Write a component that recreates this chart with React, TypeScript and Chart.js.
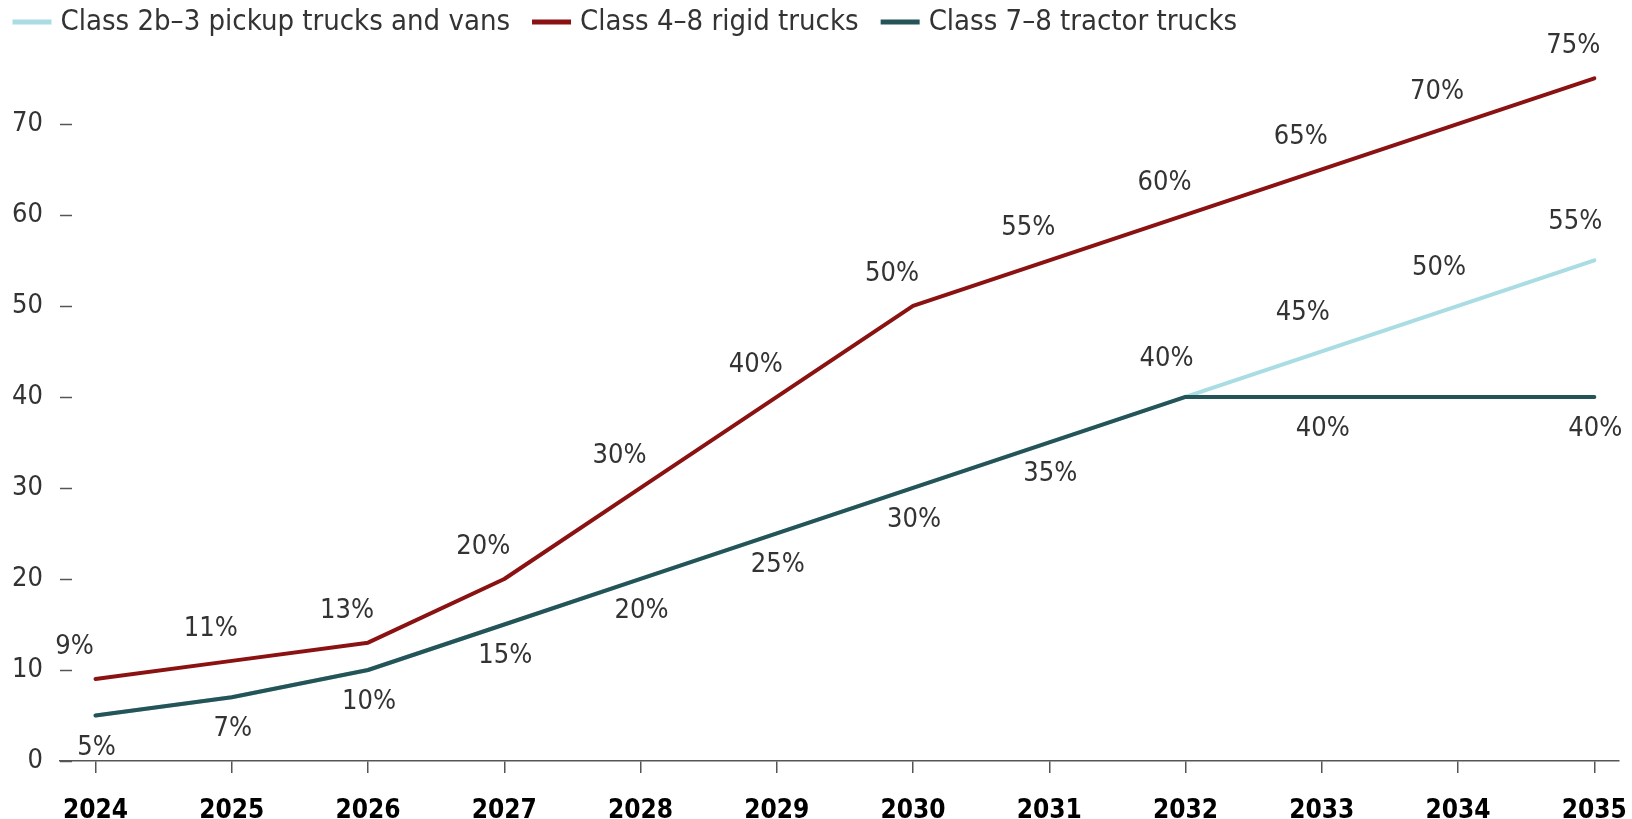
import React, { useEffect, useRef } from "react";
import { Chart, registerables } from "chart.js";

Chart.register(...registerables);

const years = [2024, 2025, 2026, 2027, 2028, 2029, 2030, 2031, 2032, 2033, 2034, 2035];
const pickupVans = [5, 7, 10, 15, 20, 25, 30, 35, 40, 45, 50, 55];
const rigidTrucks = [9, 11, 13, 20, 30, 40, 50, 55, 60, 65, 70, 75];
const tractorTrucks = [5, 7, 10, 15, 20, 25, 30, 35, 40, 40, 40, 40];
const yTickValues = [0, 10, 20, 30, 40, 50, 60, 70];
const seriesNames = [
  "Class 2b\u20133 pickup trucks and vans",
  "Class 4\u20138 rigid trucks",
  "Class 7\u20138 tractor trucks",
];

const FONT_COND = "'DejaVu Sans Condensed', 'Liberation Sans Narrow', 'DejaVu Sans', sans-serif";

const COLORS = ["#a9dce3", "#8b1212", "#245457"];

// label placement per dataset: offset and which indices to show
const labelCfg = [
  { dx: -19, dy: -38, show: (i: number) => i >= 8 },
  { dx: -21, dy: -32, show: (_i: number) => true },
  { dx: 1, dy: 32, show: (i: number) => i !== 8 && i !== 10 },
];

const dataLabelPlugin = {
  id: "dataLabelPlugin",
  afterDatasetsDraw(chart: any) {
    const ctx = chart.ctx;
    ctx.save();
    ctx.font = `27px ${FONT_COND}`;
    ctx.fillStyle = "#333333";
    ctx.textAlign = "center";
    ctx.textBaseline = "middle";
    chart.data.datasets.forEach((ds: any, di: number) => {
      const meta = chart.getDatasetMeta(di);
      const cfg = labelCfg[di];
      meta.data.forEach((pt: any, i: number) => {
        if (!cfg.show(i)) return;
        const v = ds.data[i].y;
        ctx.fillText(`${v}%`, pt.x + cfg.dx, pt.y + cfg.dy);
      });
    });
    ctx.restore();
  },
};

const yTickMarkPlugin = {
  id: "yTickMarkPlugin",
  afterDraw(chart: any) {
    const ctx = chart.ctx;
    const y = chart.scales.y;
    const left = chart.chartArea.left;
    ctx.save();
    ctx.strokeStyle = "#555555";
    ctx.lineWidth = 1.5;
    yTickValues.forEach((v) => {
      const py = Math.round(y.getPixelForValue(v)) + 0.5;
      ctx.beginPath();
      ctx.moveTo(left, py);
      ctx.lineTo(left + 12, py);
      ctx.stroke();
    });
    ctx.restore();
  },
};

const legendPlugin = {
  id: "customLegend",
  afterDraw(chart: any) {
    const ctx = chart.ctx;
    ctx.save();
    ctx.font = `29px ${FONT_COND}`;
    ctx.textBaseline = "middle";
    ctx.textAlign = "left";
    let x = 12.5;
    const cy = 22.5;
    chart.data.datasets.forEach((ds: any) => {
      ctx.fillStyle = ds.borderColor;
      ctx.fillRect(x, cy - 3, 39, 5);
      x += 39 + 9;
      ctx.fillStyle = "#333333";
      ctx.fillText(ds.label, x, cy);
      x += ctx.measureText(ds.label).width + 22;
    });
    ctx.restore();
  },
};

export default function App() {
  const canvasRef = useRef<HTMLCanvasElement | null>(null);

  useEffect(() => {
    if (!canvasRef.current) return;
    const series = [pickupVans, rigidTrucks, tractorTrucks];
    const chart = new Chart(canvasRef.current, {
      type: "line",
      data: {
        datasets: series.map((arr, si) => ({
          label: seriesNames[si],
          data: arr.map((v, i) => ({ x: years[i], y: v })),
          borderColor: COLORS[si],
          backgroundColor: COLORS[si],
          borderWidth: 4,
          borderCapStyle: "round",
          borderJoinStyle: "round",
          pointRadius: 0,
          tension: 0,
          order: si === 0 ? 2 : 0,
        })),
      },
      options: {
        animation: false,
        responsive: true,
        maintainAspectRatio: false,
        layout: { padding: { left: 0, right: 13, top: 46, bottom: 0 } },
        plugins: {
          tooltip: { enabled: false },
          legend: { display: false },
        },
        scales: {
          x: {
            type: "linear",
            min: 2023.7395,
            max: 2035.181,
            afterBuildTicks: (scale: any) => {
              scale.ticks = years.map((v) => ({ value: v }));
            },
            afterFit: (scale: any) => {
              scale.height = 58;
              scale.paddingLeft = 0;
              scale.paddingRight = 0;
            },
            border: { display: true, color: "#555555", width: 1.5 },
            grid: {
              display: true,
              drawOnChartArea: false,
              drawTicks: true,
              tickLength: 12,
              color: "#555555",
              lineWidth: 1.5,
            },
            ticks: {
              autoSkip: false,
              maxRotation: 0,
              padding: 23,
              color: "#000000",
              font: { family: FONT_COND, size: 26, weight: "bold" },
              callback: (v: any) => String(v),
            },
          },
          y: {
            type: "linear",
            min: 0,
            max: 78.56,
            afterBuildTicks: (scale: any) => {
              scale.ticks = yTickValues.map((v) => ({ value: v }));
            },
            afterFit: (scale: any) => {
              scale.width = 60;
              scale.paddingTop = 0;
              scale.paddingBottom = 0;
            },
            border: { display: false },
            grid: { display: false, drawTicks: false, tickLength: 0 },
            ticks: {
              padding: 17,
              color: "#333333",
              font: { family: FONT_COND, size: 27 },
              callback: (v: any) => String(v),
            },
          },
        },
      },
      plugins: [dataLabelPlugin, yTickMarkPlugin, legendPlugin],
    } as any);
    return () => chart.destroy();
  }, []);

  return (
    <div style={{ position: "fixed", left: 0, top: 0, width: 1632, height: 819, background: "#ffffff" }}>
      <canvas ref={canvasRef} />
    </div>
  );
}
